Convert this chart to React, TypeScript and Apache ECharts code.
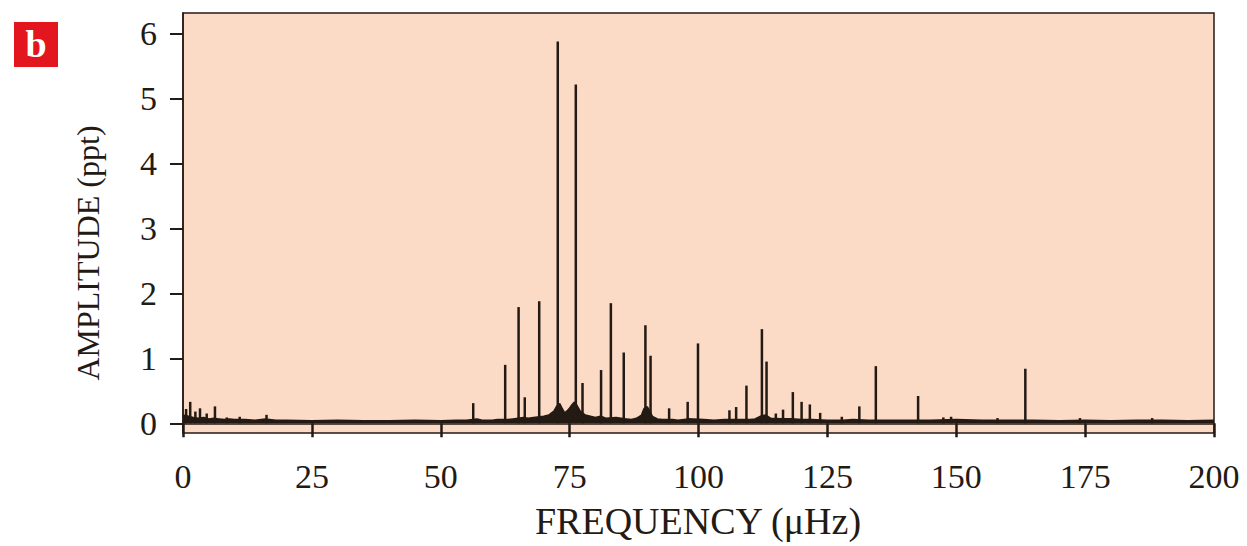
import React, { useEffect, useRef } from "react";
import * as echarts from "echarts";

// Periodogram peaks (frequency in µHz, amplitude in ppt)
const peakFreqs = [0.6, 1.4, 2.4, 3.3, 4.6, 6.2, 8.5, 11.0, 16.2, 56.3, 62.5, 65.1, 66.3, 69.1, 72.7, 76.2, 77.5, 81.1, 83.0, 85.5, 89.7, 90.7, 94.3, 97.9, 99.9, 106.0, 107.3, 109.3, 112.3, 113.2, 115.0, 116.4, 118.3, 120.0, 121.6, 123.6, 127.8, 131.2, 134.4, 142.6, 147.5, 149.0, 158.0, 163.4, 174.0, 188.0];
const peakAmps = [0.22, 0.33, 0.18, 0.23, 0.15, 0.26, 0.09, 0.1, 0.13, 0.31, 0.9, 1.79, 0.4, 1.88, 5.88, 5.22, 0.62, 0.82, 1.85, 1.09, 1.51, 1.04, 0.23, 0.33, 1.23, 0.2, 0.25, 0.58, 1.45, 0.95, 0.15, 0.21, 0.48, 0.33, 0.29, 0.16, 0.1, 0.26, 0.88, 0.42, 0.09, 0.1, 0.08, 0.84, 0.08, 0.08];

// Noise floor of the spectrum
const noiseFreqs = [0, 0.5, 1, 1.5, 2, 3, 4, 5, 6, 7, 8, 9, 10, 12, 14, 16, 18, 20, 25, 30, 35, 40, 45, 50, 53, 55, 57, 58, 60, 61, 63, 64, 66, 67, 68, 70, 71, 72, 72.5, 73, 73.5, 74, 74.5, 75, 75.5, 76, 76.5, 77, 78, 79, 80, 81, 82, 84, 86, 87, 88, 89, 89.5, 90, 90.5, 91, 92, 93, 95, 96, 98, 101, 103, 105, 108, 110, 111, 112, 113, 114, 116, 118, 120, 122, 125, 128, 130, 133, 136, 140, 145, 150, 155, 160, 165, 170, 175, 180, 185, 190, 195, 200];
const noiseAmps = [0.1, 0.12, 0.1, 0.09, 0.08, 0.07, 0.08, 0.06, 0.07, 0.06, 0.05, 0.06, 0.05, 0.05, 0.04, 0.06, 0.04, 0.04, 0.03, 0.04, 0.03, 0.03, 0.04, 0.03, 0.04, 0.04, 0.06, 0.04, 0.04, 0.05, 0.05, 0.06, 0.08, 0.07, 0.08, 0.1, 0.12, 0.18, 0.25, 0.3, 0.22, 0.15, 0.18, 0.22, 0.28, 0.32, 0.25, 0.18, 0.12, 0.1, 0.08, 0.1, 0.07, 0.08, 0.06, 0.05, 0.07, 0.12, 0.22, 0.25, 0.18, 0.1, 0.06, 0.05, 0.05, 0.04, 0.06, 0.05, 0.04, 0.05, 0.05, 0.05, 0.06, 0.1, 0.12, 0.07, 0.06, 0.06, 0.05, 0.05, 0.04, 0.04, 0.05, 0.04, 0.04, 0.04, 0.04, 0.05, 0.04, 0.04, 0.04, 0.03, 0.04, 0.03, 0.04, 0.04, 0.03, 0.04];

const xTickValues = [0, 25, 50, 75, 100, 125, 150, 175, 200];
const yTickValues = [0, 1, 2, 3, 4, 5, 6];

const INK = "#241a14";
const PEACH = "#fbdac6";
const FONT = "'Liberation Serif', 'DejaVu Serif', serif";

export default function App() {
  const ref = useRef<HTMLDivElement>(null);
  useEffect(() => {
    const chart = echarts.init(ref.current!, null, { renderer: "svg" });
    chart.setOption({
      animation: false,
      backgroundColor: "#ffffff",
      grid: {
        left: 183,
        right: 33,
        top: 13,
        bottom: 113,
        show: true,
        backgroundColor: PEACH,
        borderColor: INK,
        borderWidth: 1.5,
      },
      xAxis: {
        type: "value",
        min: 0,
        max: 200,
        interval: 25,
        axisLine: { show: true, lineStyle: { color: INK, width: 1.5 } },
        axisTick: { show: true, inside: false, length: 14, lineStyle: { color: INK, width: 2.5 }, customValues: xTickValues },
        axisLabel: { color: INK, fontFamily: FONT, fontSize: 34, margin: 26, customValues: xTickValues },
        splitLine: { show: false },
      },
      yAxis: {
        type: "value",
        min: -0.15,
        max: 6.32,
        axisLine: { show: true, lineStyle: { color: INK, width: 1.5 } },
        axisTick: { show: true, inside: false, length: 13, lineStyle: { color: INK, width: 2 }, customValues: yTickValues },
        axisLabel: { color: INK, fontFamily: FONT, fontSize: 34, margin: 26, customValues: yTickValues },
        splitLine: { show: false },
      },
      graphic: [
        { type: "rect", left: 14, top: 22, shape: { width: 44, height: 45 }, style: { fill: "#e3161f" } },
        {
          type: "text",
          x: 36,
          y: 44,
          style: { text: "b", fill: "#ffffff", font: "bold 38px 'Liberation Serif', serif", align: "center", verticalAlign: "middle" },
        },
        {
          type: "text",
          x: 88,
          y: 253,
          rotation: Math.PI / 2,
          style: { text: "AMPLITUDE (ppt)", fill: INK, font: "32px 'Liberation Serif', serif", align: "center", verticalAlign: "middle" },
        },
        {
          type: "text",
          x: 698,
          y: 521,
          style: { text: "FREQUENCY (μHz)", fill: INK, font: "38px 'Liberation Serif', serif", align: "center", verticalAlign: "middle" },
        },
      ],
      series: [
        {
          type: "line",
          data: noiseFreqs.map((f, i) => [f, noiseAmps[i]]),
          showSymbol: false,
          symbol: "none",
          lineStyle: { color: INK, width: 2.5 },
          areaStyle: { color: INK, opacity: 1, origin: 0 },
          z: 3,
        },
        {
          type: "bar",
          data: peakFreqs.map((f, i) => [f, peakAmps[i]]),
          barWidth: 2.5,
          itemStyle: { color: INK },
          z: 4,
        },
      ],
    });
    return () => chart.dispose();
  }, []);
  return (
    <div
      ref={ref}
      style={{ position: "fixed", left: 0, top: 0, width: 1247, height: 546, background: "#fff" }}
    />
  );
}
